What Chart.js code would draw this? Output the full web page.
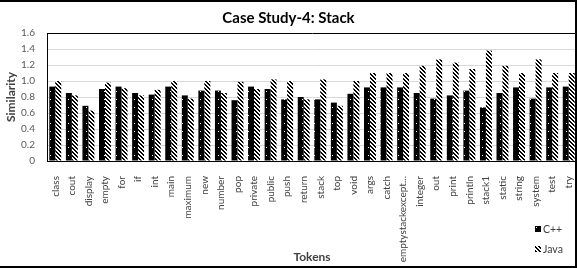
<!DOCTYPE html>
<html><head><meta charset="utf-8">
<script src="https://cdn.jsdelivr.net/npm/chart.js@4"></script>
<style>html,body{margin:0;padding:0;background:#fff}#w{width:577px;height:268px;position:relative}</style>
</head><body><div id="w"><canvas id="c" width="577" height="268"></canvas></div>
<script>
const categories = ["class","cout","display","empty","for","if","int","main","maximum","new","number","pop","private","public","push","return","stack","top","void","args","catch","emptystackexcept...","integer","out","print","println","stack1","static","string","system","test","try"];
const cppValues  = [0.93,0.85,0.69,0.90,0.93,0.85,0.83,0.93,0.82,0.88,0.88,0.76,0.93,0.90,0.77,0.80,0.77,0.73,0.84,0.92,0.92,0.92,0.85,0.78,0.82,0.88,0.67,0.85,0.92,0.78,0.92,0.93];
const javaValues = [1.00,0.82,0.63,0.98,0.91,0.82,0.89,1.00,0.78,1.00,0.85,0.99,0.90,1.02,1.00,0.77,1.02,0.69,1.00,1.10,1.10,1.10,1.19,1.27,1.23,1.15,1.38,1.19,1.10,1.27,1.10,1.10];
const seriesNames = ["C++","Java"];
const yMin = 0, yMax = 1.6, yStep = 0.2;

function dotPattern(){
  const c=document.createElement('canvas');c.width=6;c.height=8;
  const g=c.getContext('2d');g.fillStyle='#000';g.fillRect(0,0,6,8);
  g.fillStyle='#fff';g.fillRect(2,3,1,1);
  return c;
}
function hatchPattern(){
  const c=document.createElement('canvas');c.width=4;c.height=4;
  const g=c.getContext('2d');g.fillStyle='#fff';g.fillRect(0,0,4,4);
  g.fillStyle='#000';
  for(let i=0;i<4;i++){g.fillRect(i,i,1,1);g.fillRect((i+1)%4,i,1,1);}
  return c;
}
const ctx0=document.getElementById('c').getContext('2d');
const pDot=ctx0.createPattern(dotPattern(),'repeat');
const pHatch=ctx0.createPattern(hatchPattern(),'repeat');

const FONT="Lato, 'Liberation Sans', sans-serif";

const extras={
  id:'extras',
  afterDraw(chart){
    const g=chart.ctx;g.save();
    g.font="10.5px "+FONT;g.textBaseline='middle';g.textAlign='left';
    g.fillStyle=pDot;g.fillRect(535,226,6,6);
    g.fillStyle='#404040';g.fillText(seriesNames[0],543,229.5);
    g.fillStyle=pHatch;g.fillRect(535,246,6,6);
    g.fillStyle='#404040';g.fillText(seriesNames[1],543,249.5);
    g.strokeStyle='#000';g.lineWidth=2;
    g.beginPath();g.moveTo(0,1);g.lineTo(576,1);g.lineTo(576,267);g.lineTo(0,267);g.stroke();
    g.restore();
  }
};

new Chart(document.getElementById('c'),{
  type:'bar',
  data:{labels:categories,datasets:[
    {label:seriesNames[0],data:cppValues,backgroundColor:pDot,borderWidth:0},
    {label:seriesNames[1],data:javaValues,backgroundColor:pHatch,borderWidth:0}
  ]},
  options:{
    responsive:false,animation:false,devicePixelRatio:1,
    layout:{padding:{left:0,right:0,top:0,bottom:0}},
    datasets:{bar:{categoryPercentage:0.72,barPercentage:1.0}},
    plugins:{
      legend:{display:false},tooltip:{enabled:false},
      title:{display:true,text:'Case Study-4: Stack',color:'#000',font:{family:FONT,size:15,weight:'bold'},padding:{top:9,bottom:6}}
    },
    scales:{
      x:{
        grid:{display:false},
        border:{color:'#000',width:1},
        ticks:{autoSkip:false,minRotation:90,maxRotation:90,color:'#404040',font:{family:FONT,size:10},padding:7},
        title:{display:true,text:'Tokens',color:'#404040',font:{family:FONT,size:12,weight:'bold'},padding:{top:4,bottom:4}},
        afterFit(s){s.height=107;s.paddingLeft=0;s.paddingRight=0;}
      },
      y:{
        min:yMin,max:yMax,
        grid:{color:(c)=>c.tick&&Math.abs(c.tick.value-yMax)<1e-6?'#000':'#d9d9d9',tickLength:0,drawTicks:false},
        border:{color:'#000',width:1},
        ticks:{stepSize:yStep,color:'#595959',font:{family:FONT,size:10},padding:12},
        title:{display:true,text:'Similarity',color:'#404040',font:{family:FONT,size:12,weight:'bold'},padding:{top:4,bottom:4}},
        afterFit(s){s.width=47;s.paddingTop=0;s.paddingBottom=0;}
      }
    }
  },
  plugins:[extras]
});
</script></body></html>
